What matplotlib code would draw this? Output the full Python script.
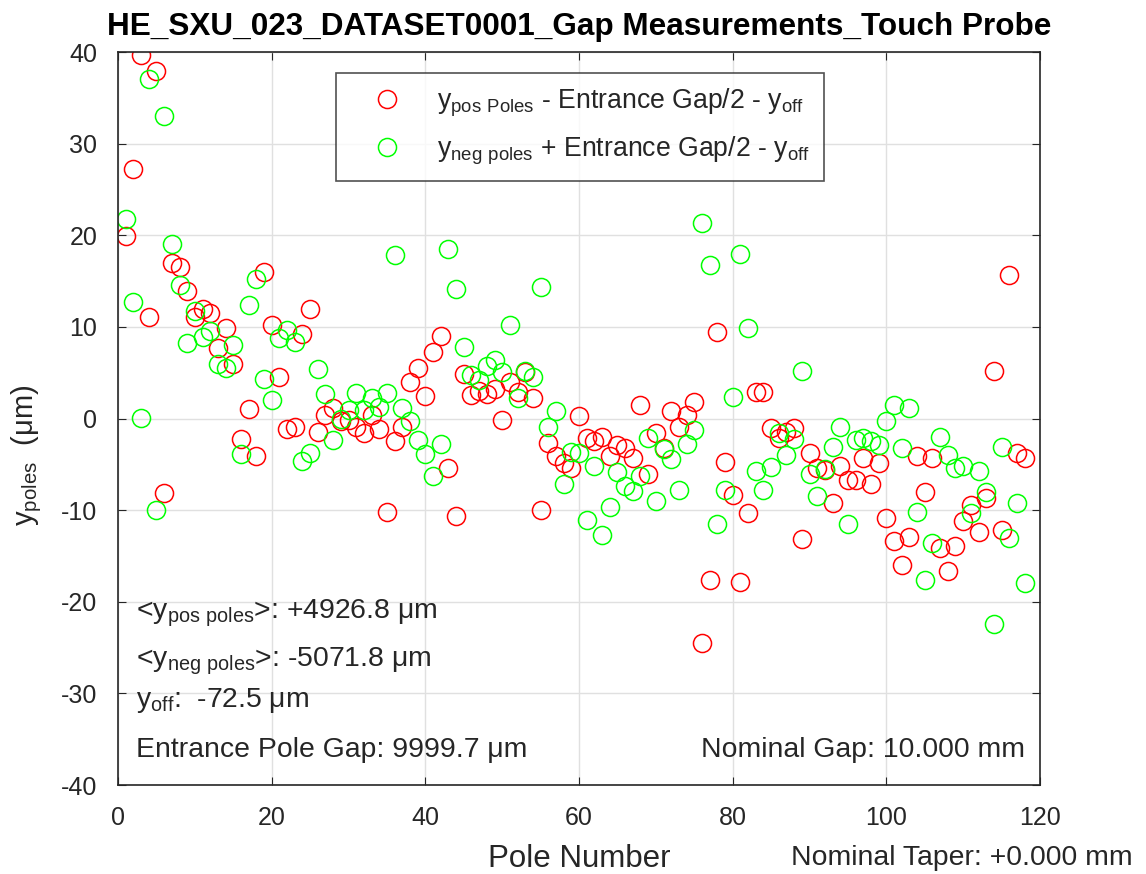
import numpy as np
import matplotlib
matplotlib.use("Agg")
import matplotlib.pyplot as plt

plt.rcParams['font.family'] = ['Liberation Sans', 'DejaVu Sans']
plt.rcParams['mathtext.default'] = 'regular'
plt.rcParams['axes.unicode_minus'] = False

# pole numbers 1..118
poles = np.arange(1, 119)

# y_pos poles - entrance gap/2 - y_off  (um)
y_pos = [19.9, 27.2, 39.7, 11.1, 37.9, -8.1, 17.0, 16.5, 13.9, 11.1,
         12.0, 11.5, 7.7, 9.9, 5.9, -2.2, 1.0, -4.1, 16.0, 10.2,
         4.5, -1.1, -0.9, 9.2, 12.0, -1.5, 0.4, 1.1, -0.3, -0.2,
         -0.9, -1.6, 0.4, -1.1, -10.2, -2.5, -0.9, 4.0, 5.5, 2.5,
         7.3, 9.0, -5.4, -10.6, 4.9, 2.6, 3.0, 2.7, 3.2, -0.2,
         4.0, 2.9, 5.1, 2.2, -10.0, -2.7, -4.1, -4.9, -5.4, 0.3,
         -2.1, -2.5, -2.0, -4.1, -2.9, -3.2, -4.3, 1.5, -6.1, -1.6,
         -3.2, 0.8, -0.9, 0.4, 1.8, -24.5, -17.6, 9.4, -4.8, -8.3,
         -17.8, -10.3, 2.9, 2.9, -1.0, -2.1, -1.5, -1.0, -13.2, -3.8,
         -5.4, -5.6, -9.2, -5.2, -6.7, -6.7, -4.3, -7.1, -4.9, -10.9,
         -13.4, -16.0, -12.9, -4.1, -8.0, -4.3, -14.1, -16.6, -13.9, -11.2,
         -9.4, -12.4, -8.7, 5.2, -12.2, 15.7, -3.8, -4.3]

# y_neg poles + entrance gap/2 - y_off  (um)
y_neg = [21.8, 12.7, 0.1, 37.1, -10.0, 33.0, 19.1, 14.6, 8.2, 11.7,
         8.9, 9.5, 6.0, 5.5, 8.0, -3.9, 12.4, 15.2, 4.3, 2.0,
         8.8, 9.7, 8.3, -4.6, -3.8, 5.4, 2.7, -2.3, 0.0, 0.9,
         2.8, 0.9, 2.2, 1.3, 2.8, 17.8, 1.1, -0.3, -2.3, -3.9,
         -6.3, -2.8, 18.5, 14.1, 7.8, 4.8, 4.2, 5.7, 6.4, 5.1,
         10.2, 2.2, 5.2, 4.5, 14.3, -0.9, 0.8, -7.1, -3.6, -3.8,
         -11.1, -5.2, -12.7, -9.7, -5.8, -7.4, -7.9, -6.3, -2.1, -9.0,
         -3.3, -4.4, -7.8, -2.8, -1.3, 21.3, 16.7, -11.5, -7.8, 2.4,
         18.0, 9.9, -5.7, -7.8, -5.3, -1.6, -4.0, -2.2, 5.2, -6.1,
         -8.5, -5.5, -3.1, -0.9, -11.5, -2.3, -2.1, -2.5, -2.9, -0.3,
         1.5, -3.2, 1.1, -10.2, -17.6, -13.6, -2.0, -4.0, -5.4, -5.2,
         -10.3, -5.7, -8.0, -22.4, -3.1, -13.0, -9.2, -17.9]

title = 'HE_SXU_023_DATASET0001_Gap Measurements_Touch Probe'
mean_pos = '+4926.8'
mean_neg = '-5071.8'
y_off = '-72.5'
entrance_gap = '9999.7'
nominal_gap = '10.000'
nominal_taper = '+0.000'

txt = '#262626'
fig = plt.figure(figsize=(11.46, 8.74), dpi=100)
ax = fig.add_axes([0.103, 0.1018, 0.8045, 0.8387])

ax.plot(poles, y_pos, 'o', mfc='none', mec=(1, 0, 0), ms=13, mew=1.1,
        label=r'$y_{pos\ Poles}$ - Entrance Gap/2 - $y_{off}$')
ax.plot(poles, y_neg, 'o', mfc='none', mec=(0, 1, 0), ms=13, mew=1.1,
        label=r'$y_{neg\ poles}$ + Entrance Gap/2 - $y_{off}$')

ax.set_xlim(0, 120)
ax.set_ylim(-40, 40)
ax.set_xticks(np.arange(0, 121, 20))
ax.set_yticks(np.arange(-40, 41, 10))
ax.grid(True, color='#e0e0e0', linewidth=1)
ax.set_axisbelow(True)
ax.tick_params(direction='in', top=True, right=True, length=6,
               labelsize=18, colors=txt, pad=15)
for s in ax.spines.values():
    s.set_color(txt)
    s.set_linewidth(1.2)

ax.set_title(title, fontsize=22.7, fontweight='bold', color='black', pad=12)
ax.set_xlabel('Pole Number', fontsize=22.5, color=txt, labelpad=10)
ax.set_ylabel(r'$y_{poles}$  (μm)', fontsize=21, color=txt, labelpad=4)
ax.yaxis.set_label_coords(-0.08, 0.45)

leg = ax.legend(loc='upper center', bbox_to_anchor=(0.501, 0.989), fontsize=19.2,
                frameon=True, fancybox=False, edgecolor=txt, borderpad=0.5,
                handletextpad=0.5, labelspacing=0.6, handlelength=2.8)
leg.get_frame().set_linewidth(1.2)
for t in leg.get_texts():
    t.set_color(txt)

fs = 20.4
ax.text(2.3, -21.3, r'<$y_{pos\ poles}$>: ' + mean_pos + ' μm', fontsize=fs, color=txt, va='center')
ax.text(2.3, -26.5, r'<$y_{neg\ poles}$>: ' + mean_neg + ' μm', fontsize=fs, color=txt, va='center')
ax.text(2.3, -30.8, r'$y_{off}$:  ' + y_off + ' μm', fontsize=fs, color=txt, va='center')
ax.text(2.3, -36.2, 'Entrance Pole Gap: ' + entrance_gap + ' μm', fontsize=fs, color=txt, va='center')
ax.text(118.0, -36.2, 'Nominal Gap: ' + nominal_gap + ' mm', fontsize=fs, color=txt,
        va='center', ha='right')
fig.text(0.988, 0.003, 'Nominal Taper: ' + nominal_taper + ' mm', fontsize=fs, color=txt,
         ha='right', va='bottom')

fig.savefig('out.png', dpi=100)
